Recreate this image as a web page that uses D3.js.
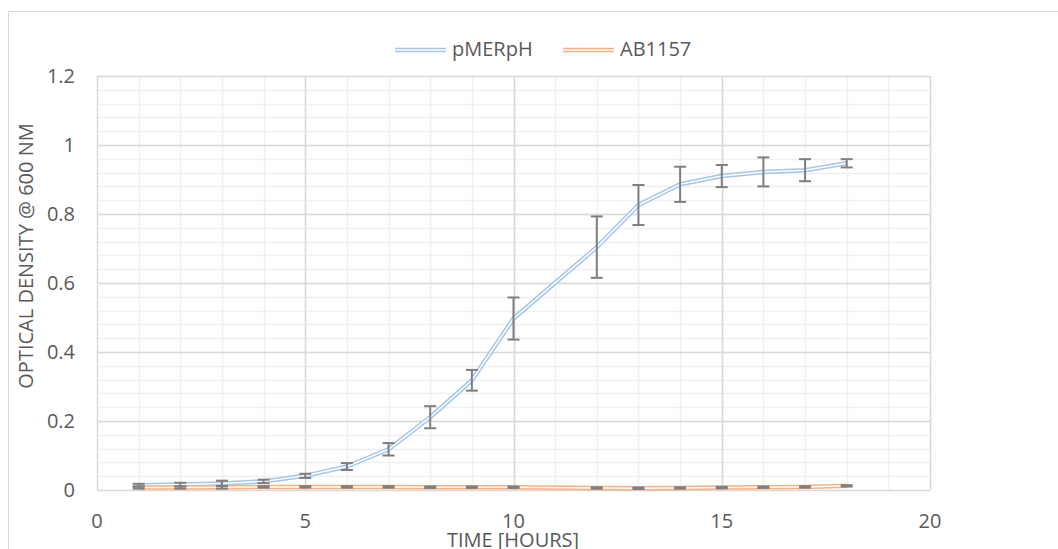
<!DOCTYPE html>
<html>
<head>
<meta charset="utf-8">
<script src="https://cdn.jsdelivr.net/npm/d3@7"></script>
<style>
  body { margin: 0; background: #fff; }
  text { font-family: "Open Sans", Lato, sans-serif; fill: #595959; }
</style>
</head>
<body>
<svg id="chart" width="1058" height="549"></svg>
<script>
// hours sampled (no reading at hour 11)
var hours = [1, 2, 3, 4, 5, 6, 7, 8, 9, 10, 12, 13, 14, 15, 16, 17, 18];
var pmerphValues = [0.014, 0.016, 0.019, 0.025, 0.041, 0.068, 0.118, 0.211, 0.318, 0.497, 0.704, 0.826, 0.886, 0.910, 0.922, 0.927, 0.947];
var pmerphErrors = [0.004, 0.005, 0.008, 0.005, 0.006, 0.010, 0.018, 0.032, 0.030, 0.061, 0.089, 0.058, 0.051, 0.032, 0.042, 0.032, 0.012];
var ab1157Values = [0.007, 0.007, 0.008, 0.009, 0.009, 0.009, 0.009, 0.008, 0.008, 0.008, 0.006, 0.005, 0.006, 0.007, 0.008, 0.009, 0.012];
var ab1157Errors = [0.003, 0.003, 0.004, 0.002, 0.002, 0.002, 0.002, 0.002, 0.002, 0.002, 0.002, 0.002, 0.002, 0.002, 0.002, 0.002, 0.002];
var seriesNames = ["pMERpH", "AB1157"];
var seriesColors = ["#a4c6e8", "#f4b183"];
var xTicks = [0, 5, 10, 15, 20];
var yTicks = [0, 0.2, 0.4, 0.6, 0.8, 1, 1.2];

var svg = d3.select("#chart");

// Chart border
svg.append("rect")
	.attr("x", 8.5).attr("y", 11.5)
	.attr("width", 1100).attr("height", 600)
	.attr("fill", "none").attr("stroke", "#d9d9d9");

var x = d3.scaleLinear().domain([0, 20]).range([97, 930]);
var y = d3.scaleLinear().domain([0, 1.2]).range([490, 76]);

// Minor gridlines
var grid = svg.append("g");
grid.selectAll(".vminor").data(d3.range(1, 21)).enter().append("line")
	.attr("x1", function(d) { return Math.round(x(d)) + 0.5; })
	.attr("x2", function(d) { return Math.round(x(d)) + 0.5; })
	.attr("y1", y(0)).attr("y2", y(1.2))
	.attr("stroke", "#f0f0f0").attr("stroke-width", 1.5);
grid.selectAll(".hminor").data(d3.range(1, 31)).enter().append("line")
	.attr("x1", x(0)).attr("x2", x(20))
	.attr("y1", function(d) { return Math.round(y(d * 0.04)) + 0.5; })
	.attr("y2", function(d) { return Math.round(y(d * 0.04)) + 0.5; })
	.attr("stroke", "#f0f0f0").attr("stroke-width", 1.5);

// Major gridlines
grid.selectAll(".vmajor").data(xTicks.slice(1)).enter().append("line")
	.attr("x1", function(d) { return Math.round(x(d)) + 0.5; })
	.attr("x2", function(d) { return Math.round(x(d)) + 0.5; })
	.attr("y1", y(0)).attr("y2", y(1.2))
	.attr("stroke", "#d9d9d9").attr("stroke-width", 1.5);
grid.selectAll(".hmajor").data(yTicks.slice(1)).enter().append("line")
	.attr("x1", x(0)).attr("x2", x(20))
	.attr("y1", function(d) { return Math.round(y(d)) + 0.5; })
	.attr("y2", function(d) { return Math.round(y(d)) + 0.5; })
	.attr("stroke", "#d9d9d9").attr("stroke-width", 1.5);

// Axis lines
svg.append("line")
	.attr("x1", x(0)).attr("x2", x(20))
	.attr("y1", y(0) + 0.5).attr("y2", y(0) + 0.5)
	.attr("stroke", "#d9d9d9").attr("stroke-width", 1.5);
svg.append("line")
	.attr("x1", x(0) + 0.5).attr("x2", x(0) + 0.5)
	.attr("y1", y(0)).attr("y2", y(1.2))
	.attr("stroke", "#d9d9d9").attr("stroke-width", 1.5);

// Tick labels
svg.selectAll(".xlab").data(xTicks).enter().append("text")
	.attr("x", function(d) { return x(d); })
	.attr("y", 528)
	.attr("text-anchor", "middle")
	.attr("font-size", "20px")
	.text(function(d) { return d; });
svg.selectAll(".ylab").data(yTicks).enter().append("text")
	.attr("x", 75)
	.attr("y", function(d) { return y(d) + 7; })
	.attr("text-anchor", "end")
	.attr("font-size", "20px")
	.text(function(d) { return d; });

// Axis titles
svg.append("text")
	.attr("transform", "translate(33,256) rotate(-90)")
	.attr("text-anchor", "middle")
	.attr("font-size", "20px")
	.text("OPTICAL DENSITY @ 600 NM");
svg.append("text")
	.attr("x", 513).attr("y", 547)
	.attr("text-anchor", "middle")
	.attr("font-size", "20px")
	.text("TIME [HOURS]");

// Series
var series = [
	{values: pmerphValues, errors: pmerphErrors},
	{values: ab1157Values, errors: ab1157Errors}
];
var line = d3.line()
	.x(function(d) { return x(d[0]); })
	.y(function(d) { return y(d[1]); });

series.forEach(function(s, i) {
	var pts = hours.map(function(h, j) { return [h, s.values[j]]; });
	svg.append("path").datum(pts)
		.attr("d", line).attr("fill", "none")
		.attr("stroke", seriesColors[i]).attr("stroke-width", 4.5)
		.attr("stroke-linejoin", "round");
	svg.append("path").datum(pts)
		.attr("d", line).attr("fill", "none")
		.attr("stroke", "#fff").attr("stroke-width", 1.5)
		.attr("stroke-linejoin", "round");
});

// Error bars
series.forEach(function(s) {
	var g = svg.append("g").attr("stroke", "#7f7f7f").attr("stroke-width", 2);
	hours.forEach(function(h, j) {
		var cx = x(h), top = y(s.values[j] + s.errors[j]), bot = y(s.values[j] - s.errors[j]);
		g.append("line").attr("x1", cx).attr("x2", cx).attr("y1", top).attr("y2", bot);
		g.append("line").attr("x1", cx - 6).attr("x2", cx + 6).attr("y1", top).attr("y2", top);
		g.append("line").attr("x1", cx - 6).attr("x2", cx + 6).attr("y1", bot).attr("y2", bot);
	});
});

// Legend
var legendX = [395, 563];
seriesNames.forEach(function(name, i) {
	var lx = legendX[i];
	svg.append("line")
		.attr("x1", lx).attr("x2", lx + 51).attr("y1", 50).attr("y2", 50)
		.attr("stroke", seriesColors[i]).attr("stroke-width", 4.5);
	svg.append("line")
		.attr("x1", lx).attr("x2", lx + 51).attr("y1", 50).attr("y2", 50)
		.attr("stroke", "#fff").attr("stroke-width", 1.5);
	svg.append("text")
		.attr("x", lx + 57).attr("y", 56)
		.attr("font-size", "20px")
		.text(name);
});
</script>
</body>
</html>
